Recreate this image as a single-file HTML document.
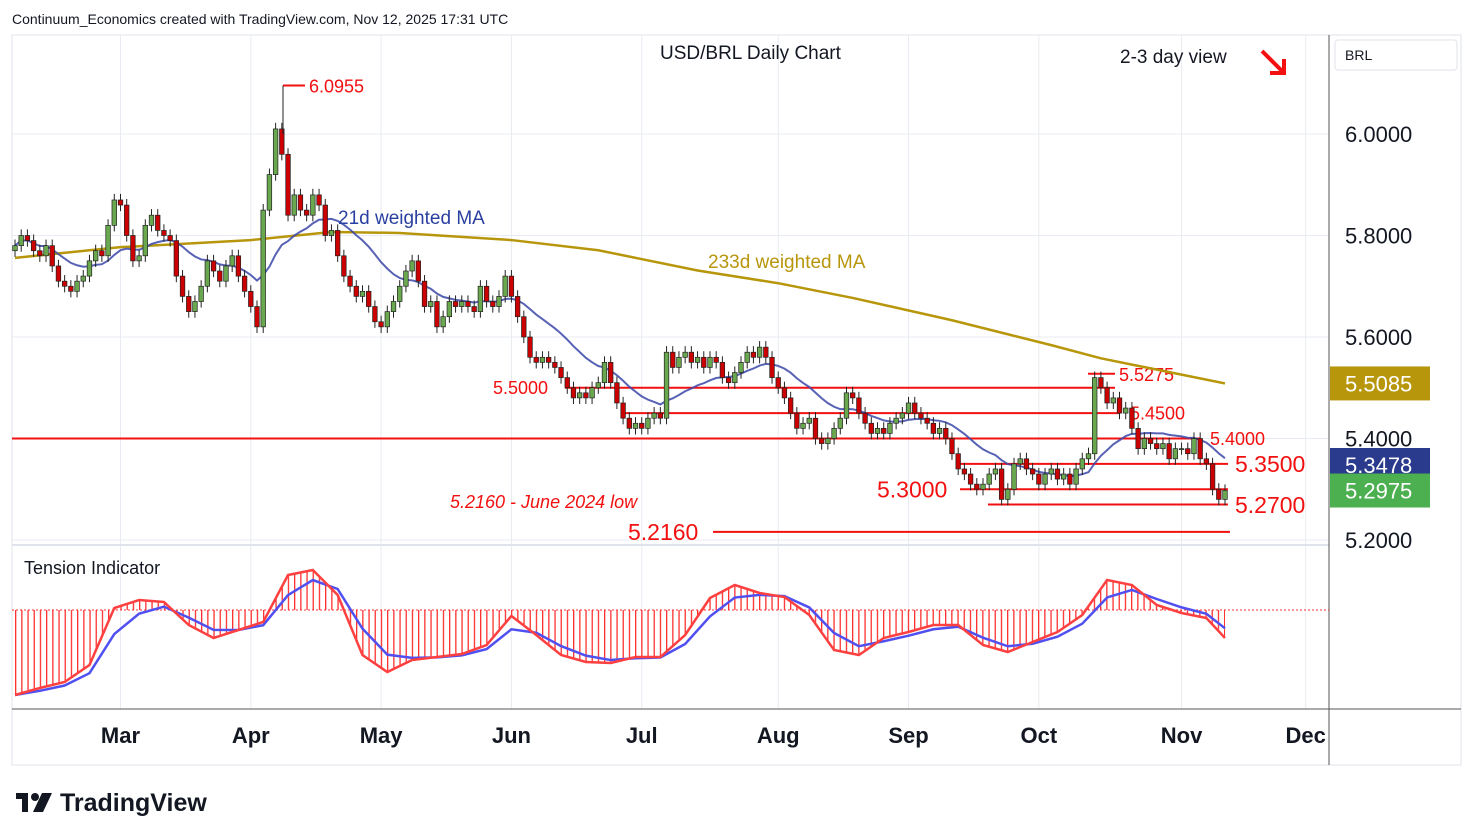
<!DOCTYPE html>
<html><head><meta charset="utf-8"><style>
html,body{margin:0;padding:0;background:#fff;width:1474px;height:840px;overflow:hidden;font-family:"Liberation Sans",sans-serif}
svg{position:absolute;left:0;top:0}
</style></head><body>
<svg id="chart" width="1474" height="840" viewBox="0 0 1474 840" xmlns="http://www.w3.org/2000/svg">
<defs>
<pattern id="hatch" patternUnits="userSpaceOnUse" width="6.2" height="10" x="15">
<rect x="0" y="0" width="1.3" height="10" fill="#ff3030"/>
</pattern>
</defs>
<rect x="12" y="35" width="1449" height="730" fill="#fff" stroke="#e0e3eb"/>
<text x="12" y="24" font-size="14" fill="#131722">Continuum_Economics created with TradingView.com, Nov 12, 2025 17:31 UTC</text>
<g id="grid"></g>
<line x1="12" y1="545" x2="1329" y2="545" stroke="#e0e3eb" stroke-width="2"/>
<line x1="12" y1="709" x2="1461" y2="709" stroke="#555" stroke-width="1"/>
<line x1="1329" y1="35" x2="1329" y2="765" stroke="#555" stroke-width="1"/>
<g id="tension"></g>
<g id="levels"></g>
<g id="mas"></g>
<g id="candles"></g>
<g id="axes"></g>
<text x="660" y="59" font-size="19" fill="#131722">USD/BRL Daily Chart</text>
<text x="1120" y="63" font-size="19" fill="#131722">2-3 day view</text>
<g stroke="#f21010" stroke-width="4" fill="none"><line x1="1262" y1="51" x2="1284" y2="73"/><polyline points="1270,73 1284,73 1284,59"/></g>
<text x="24" y="574" font-size="18" fill="#131722">Tension Indicator</text>
<text x="338" y="224" font-size="19" fill="#2a3f9f">21d weighted MA</text>
<text x="708" y="268" font-size="19" fill="#b8960c">233d weighted MA</text>
<text x="450" y="508" font-size="18" font-style="italic" fill="#f21010">5.2160 - June 2024 low</text>
<rect x="1335" y="40" width="122" height="30" rx="3" fill="#fff" stroke="#e0e3eb"/>
<text x="1345" y="60" font-size="14" fill="#131722">BRL</text>
<g>
<rect x="16" y="793" width="12" height="6" fill="#131722"/><rect x="22" y="793" width="6" height="19" fill="#131722"/>
<circle cx="35" cy="797" r="4" fill="#131722"/><polygon points="42,793 52,793 43,812 33,812" fill="#131722"/>
<text x="60" y="811" font-size="25" font-weight="bold" fill="#131722">TradingView</text>
</g>
</svg>
<script>
const closes = [
5.78,5.80,5.79,5.77,5.76,5.78,5.74,5.71,5.70,5.69,5.71,5.72,5.75,5.77,5.76,5.82,5.87,
5.86,5.80,5.75,5.76,5.82,5.84,5.81,5.80,5.79,5.72,5.68,5.65,5.67,5.70,5.75,5.73,5.71,5.74,5.76,5.72,5.69,
5.66,5.62,5.85,5.92,6.01,5.96,5.84,5.88,5.85,5.84,5.88,5.86,5.80,5.81,5.76,5.72,5.70,5.68,5.69,5.66,5.63,
5.62,5.65,5.67,5.70,5.73,5.75,5.71,5.66,5.67,5.62,5.64,5.67,5.66,5.67,5.66,5.65,5.70,5.67,5.66,5.68,5.72,
5.68,5.64,5.60,5.56,5.55,5.56,5.55,5.54,5.52,5.50,5.48,5.49,5.48,5.50,5.51,5.55,5.51,5.47,5.44,5.42,5.43,
5.42,5.44,5.45,5.44,5.57,5.54,5.56,5.57,5.55,5.56,5.54,5.56,5.55,5.52,5.51,5.53,5.55,5.57,5.56,5.58,5.56,5.52,
5.50,5.48,5.45,5.42,5.43,5.44,5.40,5.39,5.40,5.42,5.44,5.49,5.48,5.45,5.43,5.41,5.42,5.41,5.43,5.44,5.45,
5.47,5.45,5.44,5.43,5.41,5.42,5.40,5.37,5.34,5.33,5.31,5.30,5.31,5.33,5.34,5.28,5.30,5.35,5.36,5.34,5.33,
5.31,5.33,5.34,5.32,5.33,5.31,5.34,5.36,5.37,5.52,5.50,5.47,5.48,5.45,5.46,5.42,5.38,5.40,5.39,5.38,5.39,5.36,5.38,
5.38,5.37,5.40,5.36,5.35,5.30,5.28,5.2975];
const firstOpen = 5.77;
const ma233Idx = [0,17,38,51,62,80,94,110,123,135,151,167,175,195];
const ma233Val = [5.756,5.777,5.791,5.807,5.805,5.791,5.771,5.731,5.706,5.677,5.633,5.584,5.558,5.5085];
const tensionStep = 4;
const tension = [-85,-78,-72,-55,2,10,8,-15,-28,-20,-12,35,40,15,-45,-62,-50,-47,-44,-35,-6,-25,-45,-52,-53,-47,-47,-25,12,25,17,13,-5,-40,-45,-28,-22,-15,-15,-35,-42,-32,-22,-5,30,25,5,-3,-8,-28];
const priceTicks = [6.0,5.8,5.6,5.4,5.2];
const monthLabels = ["Mar","Apr","May","Jun","Jul","Aug","Sep","Oct","Nov","Dec"];
const monthIdx = [17,38,59,80,101,123,144,165,188,208];
const levelVals = [5.5,5.45,5.4,5.35,5.3,5.27,5.216];
const levelText = ["5.5000","5.4500","5.4000","5.3500","5.3000","5.2700","5.2160"];

const NS="http://www.w3.org/2000/svg";
const n=closes.length, dx=1210/(n-1);
const X=i=>15+i*dx;
const Y=p=>134+(6-p)*507.5;
const TY=v=>610-v;
function mk(tag,attrs,parent){const e=document.createElementNS(NS,tag);for(const k in attrs)e.setAttribute(k,attrs[k]);parent.appendChild(e);return e;}
const grid=document.getElementById('grid');
priceTicks.forEach(p=>{const l=mk('line',{x1:12,x2:1329,y1:Y(p),y2:Y(p),stroke:'#e8ebf1'},grid);

});
monthIdx.forEach(i=>{const l=mk('line',{x1:X(i),x2:X(i),y1:35,y2:709,stroke:'#e8ebf1'},grid);

});
const axes=document.getElementById('axes');
priceTicks.forEach(p=>{const t=mk('text',{x:1345,y:Y(p)+8,'font-size':22,fill:'#131722'},axes);t.textContent=p.toFixed(4);

});
monthLabels.forEach((m,k)=>{const t=mk('text',{x:X(monthIdx[k]),y:743,'font-size':22,'font-weight':'bold','text-anchor':'middle',fill:'#131722'},axes);t.textContent=m;

});

// tension
const tg=document.getElementById('tension');
const bl=mk('line',{x1:12,x2:1329,y1:610,y2:610,stroke:'#ff3030','stroke-dasharray':'2,2'},tg);


const tx=k=>X(Math.min(k*tensionStep,n-1));
let pts=tension.map((v,k)=>tx(k)+','+TY(v));
const area=mk('polygon',{points:tx(0)+',610 '+pts.join(' ')+' '+tx(tension.length-1)+',610',fill:'url(#hatch)'},tg);


const blue=[];tension.forEach((v,k)=>{blue.push(k===0?v:blue[k-1]+0.6*(v-blue[k-1]));});
const bp=mk('polyline',{points:blue.map((v,k)=>tx(k)+','+TY(v)).join(' '),fill:'none',stroke:'#5050f0','stroke-width':2.5},tg);


const rp=mk('polyline',{points:pts.join(' '),fill:'none',stroke:'#ff4040','stroke-width':2.5},tg);



// levels
const lv=document.getElementById('levels');
const levelSpan=[[565,1115],[622,1120],[12,1200],[960,1228],[960,1228],[988,1228],[713,1230]];
const levelLbl=[[493,'start',18],[1130,'start',18],[1210,'start',18],[1235,'start',23],[877,'start',23],[1235,'start',23],[628,'start',23]];
levelVals.forEach((p,k)=>{const y=Y(p);const l=mk('line',{x1:levelSpan[k][0],x2:levelSpan[k][1],y1:y,y2:y,stroke:'#f21010','stroke-width':2},lv);


const t=mk('text',{x:levelLbl[k][0],y:y+levelLbl[k][2]*0.36,'font-size':levelLbl[k][2],fill:'#f21010'},lv);t.textContent=levelText[k];

});
[[5.5275,1088,1115,'5.5275'],[6.0955,283,305,'6.0955']].forEach(a=>{const y=Y(a[0]);const l=mk('line',{x1:a[1],x2:a[2],y1:y,y2:y,stroke:'#f21010','stroke-width':2},lv);


const t=mk('text',{x:a[2]+4,y:y+7,'font-size':18,fill:'#f21010'},lv);t.textContent=a[3];

});

// MAs
const mg=document.getElementById('mas');
const m233=mk('polyline',{points:ma233Idx.map((i,k)=>X(i)+','+Y(ma233Val[k])).join(' '),fill:'none',stroke:'#b8960c','stroke-width':2.5},mg);


const w21=closes.map((c,i)=>{let s=0,w=0;for(let k=0;k<21&&i-k>=0;k++){s+=closes[i-k]*(21-k);w+=21-k;}return s/w;});
const m21=mk('polyline',{points:w21.map((v,i)=>X(i)+','+Y(v)).join(' '),fill:'none',stroke:'#3b46a8','stroke-width':2,'stroke-opacity':0.85},mg);



// candles
const cg=document.getElementById('candles');
closes.forEach((c,i)=>{const o=i?closes[i-1]:firstOpen;const hi=Math.max(o,c)+0.012,lo=Math.min(o,c)-0.012;
const x=X(i);
const w=mk('line',{x1:x,x2:x,y1:Y(hi),y2:Y(lo),stroke:'#222','stroke-width':1},cg);


const top=Y(Math.max(o,c)),h=Math.max(1,Math.abs(Y(o)-Y(c)));
const b=mk('rect',{x:x-2.3,y:top,width:4.6,height:h,fill:c>=o?'#6aa84f':'#cc0000',stroke:'#222','stroke-width':0.7},cg);

});
// 6.0955 spike wick
const sp=mk('line',{x1:283,x2:283,y1:Y(6.0955),y2:Y(6.0),stroke:'#222'},cg);



// badges
[[5.5085,'#b8960c'],[5.3478,'#2a3a8c'],[5.2975,'#4caf50']].forEach(a=>{const y=Y(a[0]);
const r=mk('rect',{x:1330,y:y-17,width:100,height:34,fill:a[1]},axes);


const t=mk('text',{x:1345,y:y+8,'font-size':22,fill:'#fff'},axes);t.textContent=a[0].toFixed(4);

});
</script>
</body></html>
